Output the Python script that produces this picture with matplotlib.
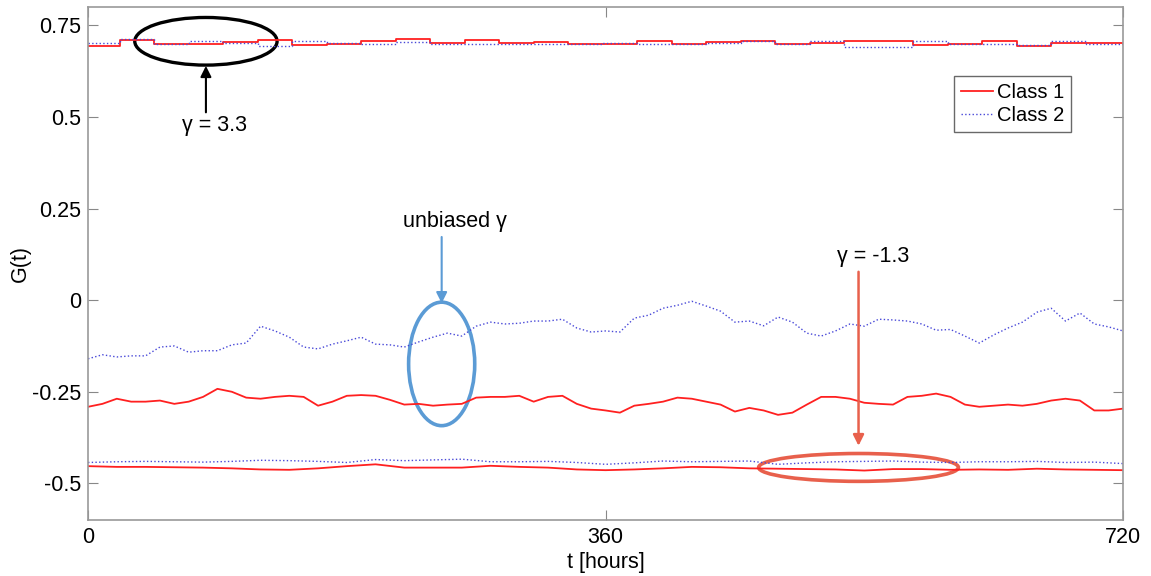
import numpy as np
import matplotlib.pyplot as plt
from matplotlib.patches import Ellipse

plt.rcParams['font.family'] = ['Liberation Sans', 'DejaVu Sans']

# --- datos ---
# serie superior (gamma = 3.3), escalones diarios
t_steps = [0, 22, 46, 70, 94, 118, 142, 166, 190, 214, 238, 262, 286, 310, 334, 358,
           382, 406, 430, 454, 478, 502, 526, 550, 574, 598, 622, 646, 670, 694, 718, 720]
top_c1 = [0.693, 0.711, 0.700, 0.700, 0.704, 0.709, 0.697, 0.700, 0.706, 0.712, 0.703,
          0.710, 0.702, 0.704, 0.699, 0.699, 0.707, 0.699, 0.704, 0.706, 0.700, 0.702,
          0.707, 0.707, 0.696, 0.700, 0.706, 0.693, 0.703, 0.703, 0.703, 0.703]
top_c2 = [0.702, 0.713, 0.700, 0.708, 0.703, 0.693, 0.707, 0.701, 0.700, 0.704, 0.698,
          0.698, 0.700, 0.698, 0.698, 0.703, 0.698, 0.698, 0.702, 0.706, 0.698, 0.706,
          0.691, 0.691, 0.708, 0.700, 0.699, 0.697, 0.707, 0.700, 0.700, 0.700]

# serie central (gamma sin sesgo), cada 10 horas
t_mid = np.arange(0, 721, 10)
mid_c1 = [-0.291, -0.283, -0.269, -0.277, -0.277, -0.274, -0.283, -0.277, -0.264, -0.242,
          -0.250, -0.266, -0.269, -0.264, -0.261, -0.264, -0.288, -0.277, -0.261, -0.259,
          -0.261, -0.272, -0.285, -0.283, -0.288, -0.285, -0.283, -0.266, -0.264, -0.264,
          -0.261, -0.277, -0.264, -0.261, -0.283, -0.296, -0.301, -0.307, -0.288, -0.283,
          -0.277, -0.266, -0.269, -0.277, -0.285, -0.304, -0.294, -0.301, -0.313, -0.307,
          -0.285, -0.264, -0.264, -0.269, -0.280, -0.283, -0.285, -0.264, -0.261, -0.255,
          -0.264, -0.285, -0.291, -0.288, -0.285, -0.288, -0.283, -0.274, -0.269, -0.274,
          -0.301, -0.301, -0.296]
mid_c2 = [-0.160, -0.149, -0.155, -0.152, -0.152, -0.128, -0.125, -0.142, -0.138, -0.138,
          -0.122, -0.117, -0.071, -0.084, -0.101, -0.128, -0.133, -0.120, -0.111, -0.101,
          -0.120, -0.122, -0.128, -0.114, -0.101, -0.090, -0.098, -0.071, -0.060, -0.065,
          -0.063, -0.057, -0.057, -0.052, -0.076, -0.087, -0.084, -0.087, -0.049, -0.041,
          -0.022, -0.014, -0.003, -0.016, -0.030, -0.060, -0.057, -0.070, -0.046, -0.060,
          -0.090, -0.098, -0.084, -0.065, -0.071, -0.052, -0.054, -0.057, -0.065, -0.082,
          -0.080, -0.098, -0.117, -0.095, -0.076, -0.060, -0.033, -0.022, -0.057, -0.035,
          -0.065, -0.073, -0.084]

# serie inferior (gamma = -1.3), cada 20 horas
t_low = np.arange(0, 721, 20)
low_c1 = [-0.453, -0.455, -0.455, -0.456, -0.457, -0.459, -0.462, -0.463, -0.459, -0.453,
          -0.448, -0.457, -0.457, -0.457, -0.452, -0.455, -0.457, -0.462, -0.464, -0.462,
          -0.459, -0.455, -0.456, -0.459, -0.460, -0.461, -0.462, -0.465, -0.461, -0.461,
          -0.463, -0.462, -0.463, -0.460, -0.462, -0.463, -0.464]
low_c2 = [-0.443, -0.441, -0.440, -0.441, -0.442, -0.440, -0.437, -0.438, -0.440, -0.443,
          -0.435, -0.438, -0.436, -0.434, -0.441, -0.441, -0.440, -0.443, -0.448, -0.444,
          -0.439, -0.441, -0.440, -0.439, -0.448, -0.444, -0.441, -0.440, -0.439, -0.442,
          -0.443, -0.441, -0.441, -0.440, -0.443, -0.442, -0.446]

yticks = [-0.5, -0.25, 0, 0.25, 0.5, 0.75]
ytick_labels = ['-0.5', '-0.25', '0', '0.25', '0.5', '0.75']
xticks = [0, 360, 720]

rojo = '#ff2020'
azul = '#4848d8'

fig = plt.figure(figsize=(11.51, 5.76), dpi=100)
ax = fig.add_axes([0.0765, 0.0972, 0.8992, 0.8906])

ax.plot(t_steps, top_c1, color=rojo, lw=1.3, drawstyle='steps-post', label='Class 1')
ax.plot(t_steps, top_c2, color=azul, lw=1.0, ls=':', drawstyle='steps-post', label='Class 2')
ax.plot(t_mid, mid_c1, color=rojo, lw=1.3)
ax.plot(t_mid, mid_c2, color=azul, lw=1.0, ls=':')
ax.plot(t_low, low_c1, color=rojo, lw=1.3)
ax.plot(t_low, low_c2, color=azul, lw=1.0, ls=':')

ax.set_xlim(0, 720)
ax.set_ylim(-0.6, 0.8)
ax.set_xticks(xticks)
ax.set_yticks(yticks)
ax.set_yticklabels(ytick_labels)
ax.tick_params(direction='in', length=7, color='#888888', labelsize=15.5,
               top=True, right=True, pad=5)
for s in ax.spines.values():
    s.set_color('#999999')
    s.set_linewidth(1.2)
ax.set_xlabel('t [hours]', fontsize=15.5, labelpad=3)
ax.set_ylabel('G(t)', fontsize=15.5, labelpad=1)

leg = ax.legend(loc='upper right', bbox_to_anchor=(0.950, 0.865), fontsize=14.5,
                frameon=True, fancybox=False, handlelength=1.6, handletextpad=0.2,
                borderpad=0.35, labelspacing=0.2, borderaxespad=0)
leg.get_frame().set_edgecolor('#444444')
leg.get_frame().set_linewidth(1.0)

# anotaciones
ax.add_patch(Ellipse((82, 0.7065), 99, 0.130, fill=False, ec='black', lw=2.4))
ax.annotate('', xy=(82, 0.647), xytext=(82, 0.505),
            arrowprops=dict(arrowstyle='-|>', color='black', lw=1.5, mutation_scale=16))
ax.text(88, 0.476, 'γ = 3.3', fontsize=15.5, ha='center', va='center')

azul_c = '#5b9bd5'
ax.add_patch(Ellipse((246, -0.174), 46, 0.337, fill=False, ec=azul_c, lw=2.6))
ax.annotate('', xy=(246, -0.016), xytext=(246, 0.180),
            arrowprops=dict(arrowstyle='-|>', color=azul_c, lw=1.5, mutation_scale=16))
ax.text(255, 0.215, 'unbiased γ', fontsize=15.5, ha='center', va='center')

rojo_c = '#e8604c'
ax.add_patch(Ellipse((536, -0.4565), 139, 0.076, fill=False, ec=rojo_c, lw=2.6))
ax.annotate('', xy=(536, -0.405), xytext=(536, 0.085),
            arrowprops=dict(arrowstyle='-|>', color=rojo_c, lw=1.8, mutation_scale=16))
ax.text(546, 0.118, 'γ = -1.3', fontsize=15.5, ha='center', va='center')

fig.savefig('out.png', dpi=100)
